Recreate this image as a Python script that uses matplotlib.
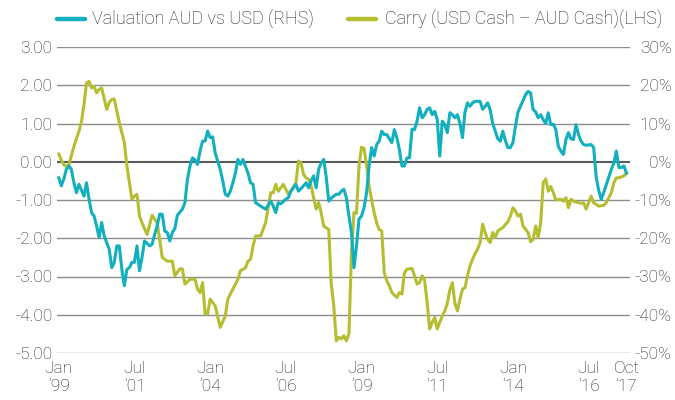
import matplotlib
matplotlib.use("Agg")
import matplotlib.pyplot as plt
from matplotlib.lines import Line2D
import numpy as np

plt.rcParams['font.family'] = ['Roboto', 'DejaVu Sans']
plt.rcParams['font.weight'] = 'light'

# ---- data (x = months since Jan 1999) ----
carry_month = [0, 1, 2, 3, 4, 6, 8, 9, 10, 11, 12, 13, 14, 15, 16, 17, 19, 20, 21, 22, 24, 26, 27, 29, 30,
               31, 32, 33, 35, 37, 39, 40, 41, 43, 45, 46, 48, 49, 50, 52, 54, 55, 56, 57, 58, 59, 60, 62,
               63, 64, 66, 67, 69, 71, 72, 74, 75, 76, 77, 78, 80, 82, 83, 84, 85, 86, 87, 89, 90, 91, 92,
               94, 95, 96, 97, 98, 99, 100, 102, 103, 104, 105, 107, 108, 109, 110, 111, 112, 113, 114,
               115, 116, 117, 118, 119, 120, 121, 122, 123, 124, 125, 126, 127, 128, 129, 130, 131, 132,
               134, 135, 136, 137, 138, 140, 141, 142, 143, 144, 145, 146, 147, 148, 149, 150, 151, 152,
               153, 154, 155, 156, 157, 158, 159, 160, 161, 162, 163, 164, 165, 166, 167, 168, 169, 170,
               171, 172, 173, 174, 176, 178, 179, 180, 181, 182, 183, 184, 186, 187, 188, 189, 190, 191,
               192, 193, 194, 195, 196, 197, 199, 200, 201, 202, 203, 204, 206, 207, 208, 209, 210, 211,
               212, 214, 216, 217, 218, 219, 220, 221, 222, 224, 225]
carry_value = [0.20, 0.05, -0.08, -0.12, -0.08, 0.40, 0.80, 1.05, 1.50, 2.06, 2.10, 1.93, 1.97, 1.80, 1.89,
               1.93, 1.37, 1.55, 1.63, 1.64, 1.02, 0.50, -0.11, -0.98, -0.90, -0.85, -1.42, -1.60, -1.90,
               -1.40, -1.60, -2.03, -2.50, -2.60, -2.60, -2.98, -2.80, -2.80, -3.20, -3.07, -3.07, -3.33,
               -3.42, -3.16, -3.98, -3.98, -3.59, -3.77, -4.05, -4.33, -4.03, -3.59, -3.33, -3.07, -2.85,
               -2.77, -2.60, -2.55, -2.20, -1.94, -1.94, -1.59, -1.20, -0.81, -0.81, -0.59, -0.77, -0.59,
               -0.72, -0.85, -0.77, -0.55, 0.02, -0.03, -0.33, -0.42, -0.46, -0.63, -1.24, -1.07, -1.33,
               -1.68, -1.77, -3.20, -3.77, -4.68, -4.59, -4.63, -4.55, -4.68, -4.50, -2.40, -1.33, -1.35,
               -0.10, 0.38, 0.35, -0.10, -0.64, -1.00, -1.33, -1.60, -1.77, -1.81, -2.90, -3.11, -3.24,
               -3.42, -3.55, -3.42, -3.46, -2.90, -2.81, -2.79, -2.98, -3.20, -3.16, -2.98, -3.10, -3.68,
               -4.37, -4.20, -4.07, -4.37, -4.20, -4.03, -3.90, -3.70, -3.35, -3.16, -3.70, -3.90, -3.60,
               -3.33, -3.29, -2.98, -2.72, -2.55, -2.40, -2.29, -2.11, -1.63, -1.85, -2.03, -2.11, -1.85,
               -1.98, -1.81, -1.72, -1.57, -1.42, -1.20, -1.29, -1.42, -1.37, -1.68, -1.85, -2.09, -2.03,
               -1.68, -1.98, -1.59, -0.55, -0.45, -0.77, -0.65, -0.80, -1.00, -0.98, -1.03, -0.94, -1.20,
               -0.98, -1.03, -1.07, -1.09, -1.07, -1.24, -1.07, -0.90, -1.07, -1.16, -1.14, -1.07, -0.94,
               -0.81, -0.55, -0.42, -0.42, -0.37, -0.29]

val_month = [0, 1, 2, 3, 4, 5, 6, 7, 8, 10, 11, 12, 13, 14, 15, 16, 17, 18, 20, 21, 22, 23, 24, 25, 26,
             27, 28, 29, 30, 31, 32, 33, 34, 36, 37, 38, 39, 40, 41, 42, 43, 44, 45, 46, 47, 49, 50, 51,
             52, 53, 54, 55, 56, 57, 58, 59, 60, 61, 62, 64, 65, 66, 67, 68, 69, 70, 71, 72, 73, 75, 76,
             77, 78, 80, 82, 84, 85, 86, 87, 88, 90, 91, 92, 94, 95, 97, 98, 99, 100, 101, 102, 103, 104,
             105, 106, 107, 108, 110, 111, 112, 113, 114, 115, 116, 117, 118, 119, 120, 121, 122, 123,
             124, 125, 126, 127, 128, 129, 130, 132, 133, 134, 135, 136, 137, 138, 139, 140, 141, 142,
             143, 144, 145, 146, 147, 148, 149, 150, 151, 152, 153, 154, 155, 156, 157, 158, 159, 160,
             161, 162, 163, 164, 165, 166, 167, 168, 169, 170, 171, 172, 173, 174, 175, 176, 177, 178,
             179, 180, 181, 182, 183, 184, 185, 186, 187, 188, 189, 190, 191, 192, 193, 194, 195, 196,
             197, 198, 199, 200, 201, 202, 203, 204, 205, 206, 207, 208, 209, 210, 211, 212, 213, 214,
             215, 216, 217, 218, 219, 220, 221, 222, 223, 224, 225]
val_pct = [-4.2, -6.3, -4.5, -2.0, -1.1, -2.0, -5.5, -8.1, -5.9, -9.0, -5.5, -9.8, -13.3, -14.2, -16.8,
           -19.8, -15.9, -19.4, -22.9, -27.7, -26.3, -22.0, -22.0, -28.1, -32.4, -28.1, -27.7, -26.3,
           -26.3, -22.0, -28.5, -25.0, -20.7, -22.0, -21.6, -19.0, -16.8, -13.7, -13.7, -18.1, -18.5,
           -20.7, -18.5, -17.5, -14.0, -12.4, -10.7, -4.6, -1.1, 1.0, 0.5, -0.7, 2.8, 5.4, 5.4, 8.0, 6.3,
           6.5, 2.3, -2.0, -5.0, -8.5, -9.0, -7.7, -5.5, -3.0, 0.6, -0.7, 0.6, -3.0, -5.5, -5.9, -10.7,
           -11.6, -12.4, -10.3, -11.6, -13.3, -10.7, -11.0, -9.8, -9.4, -7.7, -5.9, -7.7, -6.3, -5.5,
           -6.8, -5.0, -3.7, -6.8, -2.0, -0.3, 0.6, -4.0, -10.3, -9.5, -8.5, -8.5, -7.7, -7.2, -9.4,
           -14.2, -18.5, -27.7, -22.0, -15.0, -14.2, -12.0, -8.1, -1.1, 3.7, 1.5, 4.5, 5.4, 8.0, 7.1,
           7.1, 5.0, 8.4, 6.3, 3.2, -1.1, -1.1, 1.0, 1.0, 8.5, 8.4, 10.6, 14.1, 11.5, 12.3, 13.7, 14.1,
           12.3, 13.2, 11.0, 1.5, 10.6, 9.7, 7.6, 12.8, 12.3, 11.5, 12.3, 10.0, 6.3, 13.0, 15.4, 14.5,
           15.4, 15.8, 15.8, 15.8, 13.7, 14.5, 15.4, 13.5, 10.0, 8.0, 6.0, 5.4, 8.0, 5.5, 3.7, 3.7, 5.0,
           9.3, 13.0, 14.5, 16.0, 17.5, 18.4, 18.0, 13.7, 13.0, 11.5, 12.3, 11.0, 10.0, 12.8, 9.7, 9.8,
           8.4, 4.0, 2.8, 1.9, 5.8, 7.6, 6.0, 5.8, 9.7, 7.1, 5.4, 4.5, 4.3, 4.4, 4.5, 3.7, -4.0, -7.5,
           -9.8, -8.0, -6.0, -4.0, -2.0, -0.3, 2.8, -1.5, -1.5, -1.1, -3.0]

x_tick_month = [0, 30, 60, 90, 120, 150, 180, 210, 225]
x_tick_label = ["Jan\n\u201899", "Jul\n\u201801", "Jan\n\u201804", "Jul\n\u201806", "Jan\n\u201809",
                "Jul\n\u201811", "Jan\n\u201814", "Jul\n\u201816", "Oct\n\u201817"]
left_ticks = [3, 2, 1, 0, -1, -2, -3, -4, -5]
right_ticks = [30, 20, 10, 0, -10, -20, -30, -40, -50]

legend_labels = ["Valuation AUD vs USD (RHS)", "Carry (USD Cash \u2013 AUD Cash)(LHS)"]

TEAL = "#12b0bf"
GREEN = "#b5bd31"
TXT = "#222222"

W, H = 675, 400
fig = plt.figure(figsize=(W / 100, H / 100), dpi=100)
ax = fig.add_axes([57 / W, 47 / H, 573 / W, 306 / H])
ax2 = ax.twinx()

ax.plot(carry_month, carry_value, color=GREEN, lw=2.2, solid_joinstyle='round', zorder=3)
ax2.plot(val_month, val_pct, color=TEAL, lw=2.2, solid_joinstyle='round', zorder=3)

ax.set_xlim(-0.7, 226.4)
ax.set_ylim(-5, 3)
ax2.set_ylim(-50, 30)

ax.set_yticks(left_ticks)
ax.set_yticklabels([f"{t:.2f}" for t in left_ticks])
ax2.set_yticks(right_ticks)
ax2.set_yticklabels([f"{t}%" for t in right_ticks])
ax.set_xticks(x_tick_month)
ax.set_xticklabels(x_tick_label, linespacing=1.25)

for t in left_ticks:
    if t == 0:
        ax.axhline(t, color="#5a5a5a", lw=1.5, zorder=1)
    else:
        ax.axhline(t, color="#8c8c8c", lw=1.0, zorder=1)

for a in (ax, ax2):
    for s in a.spines.values():
        s.set_visible(False)

ax.tick_params(axis='both', length=0, labelsize=12.5, colors=TXT)
ax.tick_params(axis='y', pad=3.4)
ax.tick_params(axis='x', pad=6)
ax2.tick_params(axis='y', length=0, labelsize=12.5, colors=TXT, pad=30)
for lab in ax2.get_yticklabels():
    lab.set_horizontalalignment('right')

# legend row (handles + labels) placed in figure pixels
leg_y = 1 - 19 / H
leg_items = [(57, 85, 92, TEAL, legend_labels[0]), (348, 376, 385, GREEN, legend_labels[1])]
for x0, x1, xt, col, lab in leg_items:
    fig.add_artist(Line2D([x0 / W, x1 / W], [leg_y, leg_y], transform=fig.transFigure,
                          color=col, lw=3.2, solid_capstyle='round'))
    fig.text(xt / W, leg_y, lab, ha='left', va='center', fontsize=13, color=TXT)

fig.savefig("out.png", dpi=100)
